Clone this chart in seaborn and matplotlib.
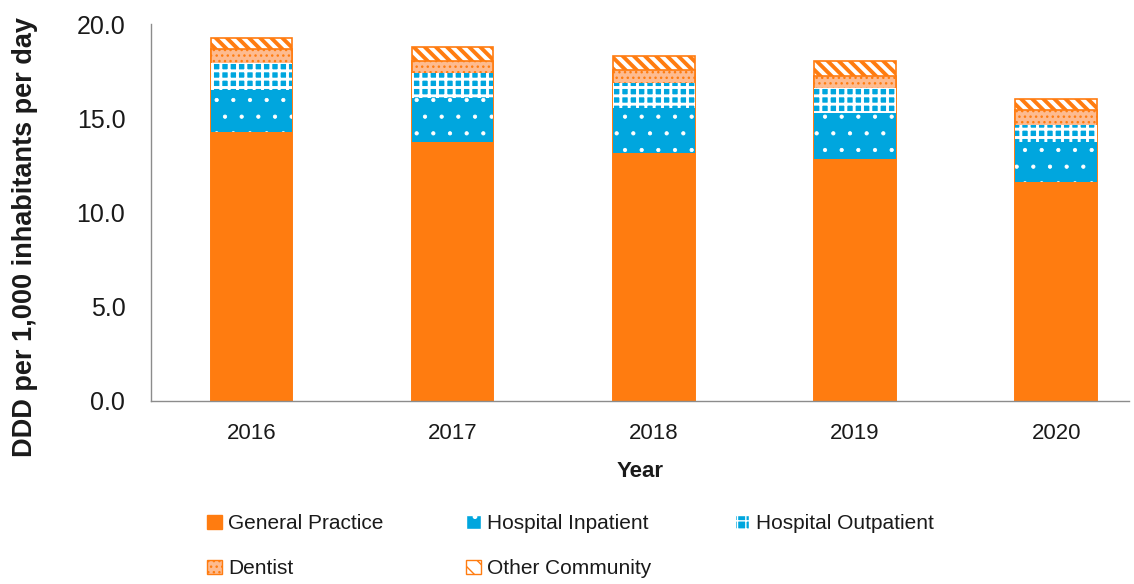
import numpy as np
import pandas as pd
import matplotlib.pyplot as plt
import seaborn as sns
from matplotlib.patches import Patch

years = ["2016", "2017", "2018", "2019", "2020"]
general_practice = [14.27, 13.76, 13.17, 12.82, 11.62]
hospital_inpatient = [2.23, 2.30, 2.36, 2.47, 2.14]
hospital_outpatient = [1.42, 1.32, 1.32, 1.33, 0.87]
dentist = [0.74, 0.67, 0.71, 0.64, 0.81]
other_community = [0.58, 0.74, 0.74, 0.76, 0.60]

orange = "#FF7C10"
blue = "#00A6DE"
peach = "#FDBB90"
text_col = "#1a1a1a"

sns.set_style("white")
plt.rcParams["font.family"] = ["Liberation Sans", "DejaVu Sans"]
plt.rcParams["hatch.linewidth"] = 1.0

df = pd.DataFrame({"Year": years, "gp": general_practice, "inp": hospital_inpatient,
                   "outp": hospital_outpatient, "dent": dentist, "other": other_community})
# cumulative tops, drawn tallest first so each lower segment covers the one above
df["c_gp"] = df["gp"]
df["c_inp"] = df["c_gp"] + df["inp"]
df["c_outp"] = df["c_inp"] + df["outp"]
df["c_dent"] = df["c_outp"] + df["dent"]
df["c_other"] = df["c_dent"] + df["other"]

fig = plt.figure(figsize=(11.34, 5.84), dpi=100)
ax = fig.add_axes([0.1332, 0.3134, 0.862, 0.6455])


def hatch_lw(container, lw):
    for p in container:
        if hasattr(p, "set_hatch_linewidth"):
            p.set_hatch_linewidth(lw)


w = 0.405
sns.barplot(data=df, x="Year", y="c_other", color="white", edgecolor=orange, hatch="\\\\\\",
            linewidth=1.2, width=w, ax=ax, saturation=1)
hatch_lw(ax.containers[-1], 2.8)
sns.barplot(data=df, x="Year", y="c_dent", color=peach, edgecolor=orange, hatch="...",
            linewidth=1.2, width=w, ax=ax, saturation=1)
sns.barplot(data=df, x="Year", y="c_outp", color=blue, edgecolor="white", hatch="++",
            linewidth=0, width=w, ax=ax, saturation=1)
hatch_lw(ax.containers[-1], 2.1)
sns.barplot(data=df, x="Year", y="c_inp", color=blue, linewidth=0, width=w, ax=ax, saturation=1)
sns.barplot(data=df, x="Year", y="c_inp", fill=False, edgecolor="white", hatch=".",
            linewidth=0, width=w, ax=ax)
hatch_lw(ax.containers[-1], 0.6)
sns.barplot(data=df, x="Year", y="c_gp", color=orange, linewidth=0, width=w, ax=ax, saturation=1)

ax.set_ylim(0, 20)
ax.set_xlim(-0.5, 4.36)
ax.set_yticks(np.arange(0, 20.1, 5))
ax.set_yticklabels([f"{v:.1f}" for v in np.arange(0, 20.1, 5)])
ax.tick_params(axis="y", length=6.5, width=1, color="#8c8c8c", labelsize=18, labelcolor=text_col, pad=12)
ax.tick_params(axis="x", length=0, labelsize=16, labelcolor=text_col, pad=16)
for s in ["top", "right"]:
    ax.spines[s].set_visible(False)
for s in ["left", "bottom"]:
    ax.spines[s].set_color("#8c8c8c")
    ax.spines[s].set_linewidth(1)

ax.set_xlabel("Year", fontsize=16, fontweight="bold", color=text_col, labelpad=12)
ax.set_ylabel("DDD per 1,000 inhabitants per day", fontsize=19.5, fontweight="bold",
              color=text_col)
ax.yaxis.set_label_coords(-0.1157, 0.435)

handles = [
    Patch(facecolor=orange, edgecolor=orange, label="General Practice"),
    Patch(facecolor=peach, edgecolor=orange, hatch="...", label="Dentist"),
    Patch(facecolor=blue, edgecolor="white", hatch=".", label="Hospital Inpatient"),
    Patch(facecolor="white", edgecolor=orange, hatch="\\\\", label="Other Community"),
    Patch(facecolor=blue, edgecolor="white", hatch="++", label="Hospital Outpatient"),
]
fig.legend(handles=handles, ncol=3, loc="upper left", bbox_to_anchor=(0.1825, 0.1195),
           frameon=False, fontsize=15, handlelength=0.7, handleheight=0.7, borderpad=0,
           borderaxespad=0, handletextpad=0.3, columnspacing=4.0, labelspacing=1.25,
           labelcolor=text_col)

fig.savefig("out.png", dpi=100)
